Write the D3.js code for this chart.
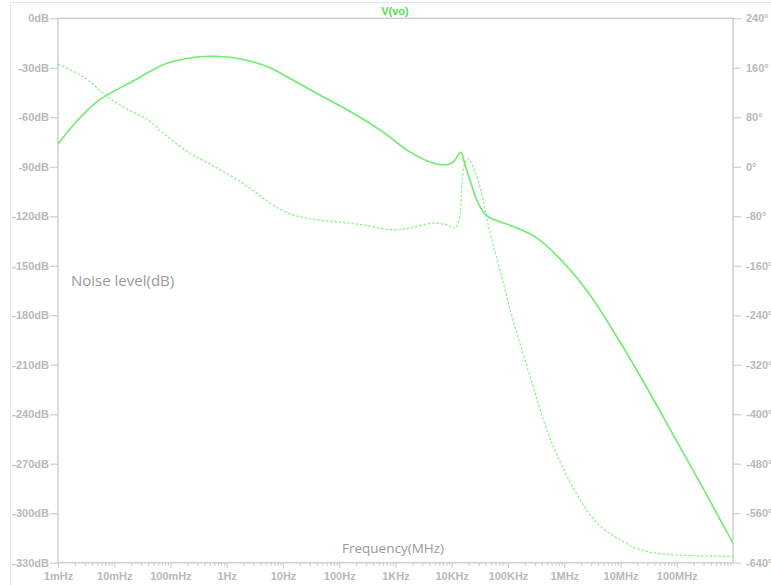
<!DOCTYPE html>
<html><head><meta charset="utf-8">
<script src="https://cdn.jsdelivr.net/npm/d3@7"></script>
<style>
html,body{margin:0;padding:0;background:#fff;}
svg{display:block;}
</style>
</head><body>
<svg id="chart" width="771" height="585"></svg>
<script>
// ---- data ----
const title = "V(vo)";
const magFreq = [0.001,0.002,0.00455,0.0084,0.0234,0.08,0.27,1.05,3.2,5.87,15,45,175,600,1800,4100,7000,10100,11400,14600,17200,21100,27800,39000,47900,72100,144500,328000,951000,2.87e6,8.67e6,2.96e7,6.71e7,2.59e8,1e9];
const magDb   = [-76.2,-63.6,-51.5,-45.5,-37.4,-27.7,-23.6,-23.5,-26.8,-30.0,-37.4,-46.5,-57.4,-68.9,-81.0,-87.1,-88.9,-87.7,-85.9,-81.2,-88.9,-98.0,-110.1,-118.6,-120.9,-123.3,-127.1,-133.2,-147.7,-167.7,-193.2,-224.1,-245.8,-281.6,-318.1];
const phFreq  = [0.001,0.002,0.0034,0.0077,0.0176,0.040,0.071,0.205,0.62,1.87,4.24,5.87,13.3,30,91,264,900,1810,4650,8240,11400,13450,15200,16500,19500,25900,34500,47900,72100,122700,278000,455000,743000,1.69e6,3.82e6,9.8e6,2.22e7,7.6e7,2.93e8,1e9];
const phDeg   = [166,153,140,113,92,76,56,24,0,-26,-49,-59,-76,-84,-89,-94,-102,-99,-91,-94,-99,-86,-30,1,13,-8,-46,-107,-167,-248,-354,-417,-466,-530,-576,-603,-619,-627,-629,-630];
const xTickVals   = [1e-3,1e-2,1e-1,1,10,100,1e3,1e4,1e5,1e6,1e7,1e8];
const xTickLabels = ["1mHz","10mHz","100mHz","1Hz","10Hz","100Hz","1KHz","10KHz","100KHz","1MHz","10MHz","100MHz"];
const yLeftTicks  = [0,-30,-60,-90,-120,-150,-180,-210,-240,-270,-300,-330];
const yRightTicks = [240,160,80,0,-80,-160,-240,-320,-400,-480,-560,-640];
const yLabel = "Noise level(dB)";
const xLabel = "Frequency(MHz)";

// ---- layout ----
const L = 58, R = 733, T = 18.3, B = 562.7;
const svg = d3.select("#chart");
const x = d3.scaleLog().domain([1e-3, 1e9]).range([L, R]);
const yL = d3.scaleLinear().domain([-330, 0]).range([B, T]);
const yR = d3.scaleLinear().domain([-640, 240]).range([B, T]);

const axisCol = "#cfcfcf", textCol = "#b9b9b9";
const font = "'Liberation Sans', Arial, sans-serif";

// outer frame
svg.append("rect").attr("x",10.5).attr("y",2.5).attr("width",800).attr("height",700)
  .attr("fill","none").attr("stroke","#e6e6e6").attr("stroke-width",1);

// title
svg.append("text").attr("x",395).attr("y",15).attr("text-anchor","middle")
  .attr("font-family",font).attr("font-weight","bold").attr("font-size",11)
  .attr("fill","#4fe24f").text(title);

// plot frame
svg.append("rect").attr("x",L).attr("y",T).attr("width",R-L).attr("height",B-T)
  .attr("fill","none").attr("stroke",axisCol).attr("stroke-width",1.5);

function styleAxis(g){
  g.select(".domain").remove();
  g.selectAll(".tick line").attr("stroke",axisCol).attr("stroke-width",1.2);
  g.selectAll(".tick text").attr("fill",textCol).attr("font-family",font)
    .attr("font-weight","bold").attr("font-size",11);
}

// left axis
svg.append("g").attr("transform",`translate(${L},0)`)
  .call(d3.axisLeft(yL).tickValues(yLeftTicks).tickSize(8).tickPadding(1)
    .tickFormat(d => d + "dB"))
  .call(styleAxis);

// right axis
svg.append("g").attr("transform",`translate(${R},0)`)
  .call(d3.axisRight(yR).tickValues(yRightTicks).tickSize(8).tickPadding(5)
    .tickFormat(d => d + "°"))
  .call(styleAxis);

// bottom axis: major
svg.append("g").attr("transform",`translate(0,${B})`)
  .call(d3.axisBottom(x).tickValues(xTickVals).tickSize(5).tickPadding(5)
    .tickFormat((d,i) => xTickLabels[i]))
  .call(styleAxis);
// bottom axis: minor
const minor = [];
for (let e = -3; e < 9; e++) for (let k = 2; k <= 9; k++) minor.push(k * Math.pow(10, e));
svg.append("g").attr("transform",`translate(0,${B})`)
  .call(d3.axisBottom(x).tickValues(minor).tickSize(3).tickFormat(""))
  .call(styleAxis);

// axis labels
svg.append("text").attr("x",71).attr("y",286).attr("font-family","'Open Sans', 'Noto Sans', sans-serif")
  .attr("font-size",15).attr("fill","#9a9a9a").text(yLabel);
svg.append("text").attr("x",393).attr("y",553).attr("text-anchor","middle")
  .attr("font-family","'Open Sans', 'Noto Sans', sans-serif")
  .attr("font-size",13.5).attr("fill","#9a9a9a").text(xLabel);

// curves
svg.append("clipPath").attr("id","pc").append("rect")
  .attr("x",L).attr("y",T).attr("width",R-L).attr("height",B-T);

const magLine = d3.line().x(d => x(d[0])).y(d => yL(d[1])).curve(d3.curveCatmullRom.alpha(0.5));
const phLine  = d3.line().x(d => x(d[0])).y(d => yR(d[1])).curve(d3.curveCatmullRom.alpha(0.5));

svg.append("path").datum(phFreq.map((f,i)=>[f,phDeg[i]]))
  .attr("d",phLine).attr("fill","none").attr("stroke","#86f086")
  .attr("stroke-width",1.2).attr("stroke-dasharray","2.5,1.8").attr("clip-path","url(#pc)");

svg.append("path").datum(magFreq.map((f,i)=>[f,magDb[i]]))
  .attr("d",magLine).attr("fill","none").attr("stroke","#6ded6d")
  .attr("stroke-width",1.6).attr("clip-path","url(#pc)");
</script>
</body></html>
